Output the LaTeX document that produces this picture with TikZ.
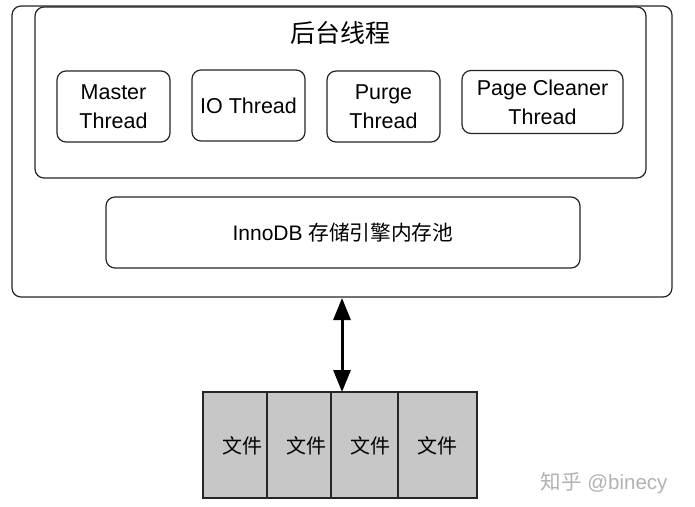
\documentclass[tikz,border=0pt]{standalone}
\usepackage{fontspec}
\setmainfont{Liberation Sans}
\newfontfamily\cjk{Noto Sans CJK SC}
\usetikzlibrary{arrows.meta}
\begin{document}
\begin{tikzpicture}[x=1pt,y=-1pt,
  box/.style={draw=black!85, line width=1.2pt, rounded corners=9pt},
  thread/.style={box, align=center, font=\fontsize{21.5}{29}\selectfont, inner sep=0pt},
  filebox/.style={draw=black!85, line width=1.2pt, fill=black!22, inner sep=0pt},
  filetext/.style={font=\cjk\fontsize{20}{24}\selectfont}]
\useasboundingbox (0,0) rectangle (695,506);
\fill[white] (0,0) rectangle (695,506);
% outer and inner containers
\node[box, minimum width=660pt, minimum height=291pt] (outer) at (342,151.5) {};
\node[box, minimum width=611pt, minimum height=171pt] (inner) at (340.5,92.5) {};
\node[font=\cjk\fontsize{25}{30}\selectfont] (title) at (340,33) {后台线程};
% threads
\node[thread, minimum width=113pt, minimum height=71pt] (master) at (113.5,106.5) {Master\\Thread};
\node[thread, minimum width=113pt, minimum height=71pt] (io) at (248.5,105.5) {IO Thread};
\node[thread, minimum width=113pt, minimum height=71pt] (purge) at (383.5,106.5) {Purge\\Thread};
\node[thread, minimum width=161pt, minimum height=63pt] (page) at (542.5,102) {Page Cleaner\\Thread};
% buffer pool
\node[box, minimum width=474pt, minimum height=71pt, font=\fontsize{21}{24}\selectfont] (pool) at (343,232.5) {InnoDB {\cjk\fontsize{20.7}{24}\selectfont 存储引擎内存池}};
% files
\node[filebox, minimum width=64pt, minimum height=106pt] (f1) at (235,445) {};
\node[filebox, minimum width=64pt, minimum height=106pt] (f2) at (299,445) {};
\node[filebox, minimum width=67pt, minimum height=106pt] (f3) at (364.5,445) {};
\node[filebox, minimum width=79pt, minimum height=106pt] (f4) at (437.5,445) {};
\node[filetext] (t1) at (242.5,446) {文件};
\node[filetext] (t2) at (306.5,446) {文件};
\node[filetext] (t3) at (370,446) {文件};
\node[filetext] (t4) at (437.5,446) {文件};
% arrow
\coordinate (a) at (342,298);
\coordinate (b) at (342,392);
\draw[line width=3pt, {Triangle[length=22pt,width=17pt]}-{Triangle[length=22pt,width=17pt]}] (a) -- (b);
% watermark
\node[text=black!30, font=\fontsize{20.5}{24}\selectfont, anchor=east] (wm) at (671,483) {{\cjk 知乎} @binecy};
\end{tikzpicture}
\end{document}
